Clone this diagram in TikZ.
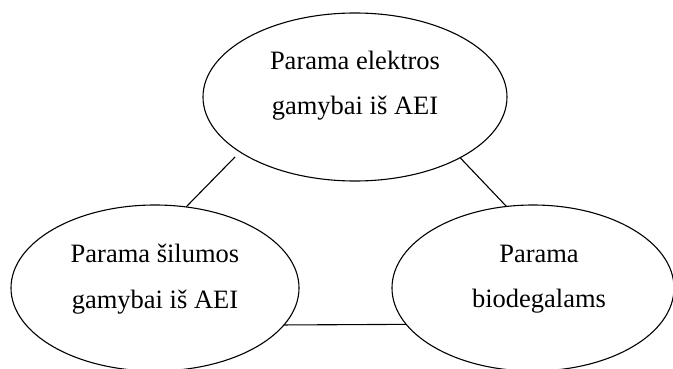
\documentclass[tikz,border=0pt]{standalone}
\usepackage{fontspec}
\setmainfont{Liberation Serif}
\usetikzlibrary{shapes.geometric}
\begin{document}
\begin{tikzpicture}[x=1pt,y=-1pt,
  oval/.style={ellipse,draw,line width=1.1pt,inner sep=0pt,outer sep=0pt},
  lbl/.style={anchor=base,inner sep=0pt,font=\fontsize{26.5}{32}\selectfont},
  conn/.style={line width=1.1pt}]
\clip (0,0) rectangle (673,369);
\node[oval,minimum width=304pt,minimum height=168pt] (top) at (355,97) {};
\node[oval,minimum width=288pt,minimum height=166pt] (left) at (155,288) {};
\node[oval,minimum width=282pt,minimum height=166pt] (right) at (533,288) {};
\node[lbl] (t1) at (355,70) {Parama elektros};
\node[lbl] (t2) at (355,115) {gamybai iš AEI};
\node[lbl] (l1) at (155,262) {Parama šilumos};
\node[lbl] (l2) at (155,308) {gamybai iš AEI};
\node[lbl] (r1) at (539,262) {Parama};
\node[lbl] (r2) at (539,307) {biodegalams};
\coordinate (c1) at (235,157);
\draw[conn] (c1) -- (left.69);
\draw[conn] (top.330) -- (right.108);
\draw[conn] (left.344) -- (right.196);
\end{tikzpicture}
\end{document}
